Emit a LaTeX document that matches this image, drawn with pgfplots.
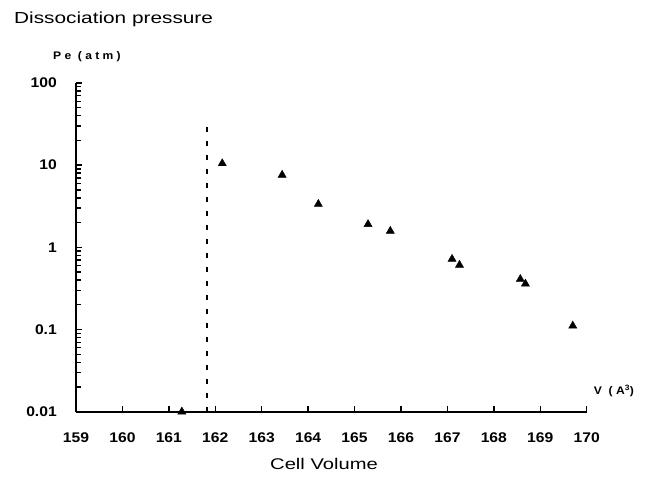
\documentclass[border=0pt]{standalone}
\usepackage{fontspec}
\setmainfont{Liberation Sans}[FakeStretch=1.3]
\newfontfamily\tickfont{Liberation Sans}[FakeStretch=1.12]
\newfontfamily\unitfont{Liberation Sans}[FakeStretch=1.1,LetterSpace=30]
\usepackage{pgfplots}
\pgfplotsset{compat=1.18}

\begin{document}
\begin{tikzpicture}
\useasboundingbox (0,0) rectangle (654pt,477pt);
\begin{axis}[
  at={(76pt,65.3pt)}, anchor=south west,
  scale only axis,
  width=510.7pt, height=328.7pt,
  xmin=159, xmax=170,
  ymode=log, ymin=0.01, ymax=100,
  axis x line*=bottom, axis y line*=left,
  axis line style={-, line width=2pt},
  xtick={159,160,...,170},
  ytick={0.01,0.1,1,10,100},
  yticklabels={0.01,0.1,1,10,100},
  minor ytick={0.02,0.03,0.04,0.05,0.06,0.07,0.08,0.09,
               0.2,0.3,0.4,0.5,0.6,0.7,0.8,0.9,
               2,3,4,5,6,7,8,9,20,30,40,50,60,70,80,90},
  tick align=inside,
  major tick length=6pt, minor tick length=5pt,
  every tick/.style={black, line width=1.4pt},
  every minor tick/.style={black, line width=1.4pt},
  /pgf/number format/assume math mode=true,
  ticklabel style={font=\tickfont\bfseries\fontsize{14}{16}\selectfont, inner sep=0pt},
  xticklabel style={anchor=north, yshift=-21pt},
  yticklabel style={anchor=east, xshift=-19pt},
  clip=false,
]
\addplot[black, line width=2pt, dash pattern=on 5pt off 9pt] coordinates {(161.83,0.01) (161.83,32.6)};
\addplot[only marks, mark=triangle*, mark size=4.7pt, black] coordinates {
  (161.28,0.01) (162.15,10.5) (163.44,7.6) (164.22,3.36) (165.29,1.91)
  (165.77,1.58) (167.10,0.72) (167.26,0.61) (168.57,0.41) (168.68,0.36)
  (169.70,0.111)
};
\end{axis}
\node[anchor=west, inner sep=0pt, font=\fontsize{16}{19}\selectfont] at (14pt,458pt) {Dissociation pressure};
\node[anchor=west, inner sep=0pt, font=\unitfont\bfseries\fontsize{11}{13}\selectfont] at (53pt,420pt) {Pe (atm)};
\node[anchor=center, inner sep=0pt, font=\unitfont\bfseries\fontsize{11}{13}\selectfont] at (614pt,86pt) {V (A\textsuperscript{3})};
\node[anchor=center, inner sep=0pt, font=\fontsize{15.5}{18}\selectfont] at (324pt,13pt) {Cell Volume};
\end{tikzpicture}
\end{document}
